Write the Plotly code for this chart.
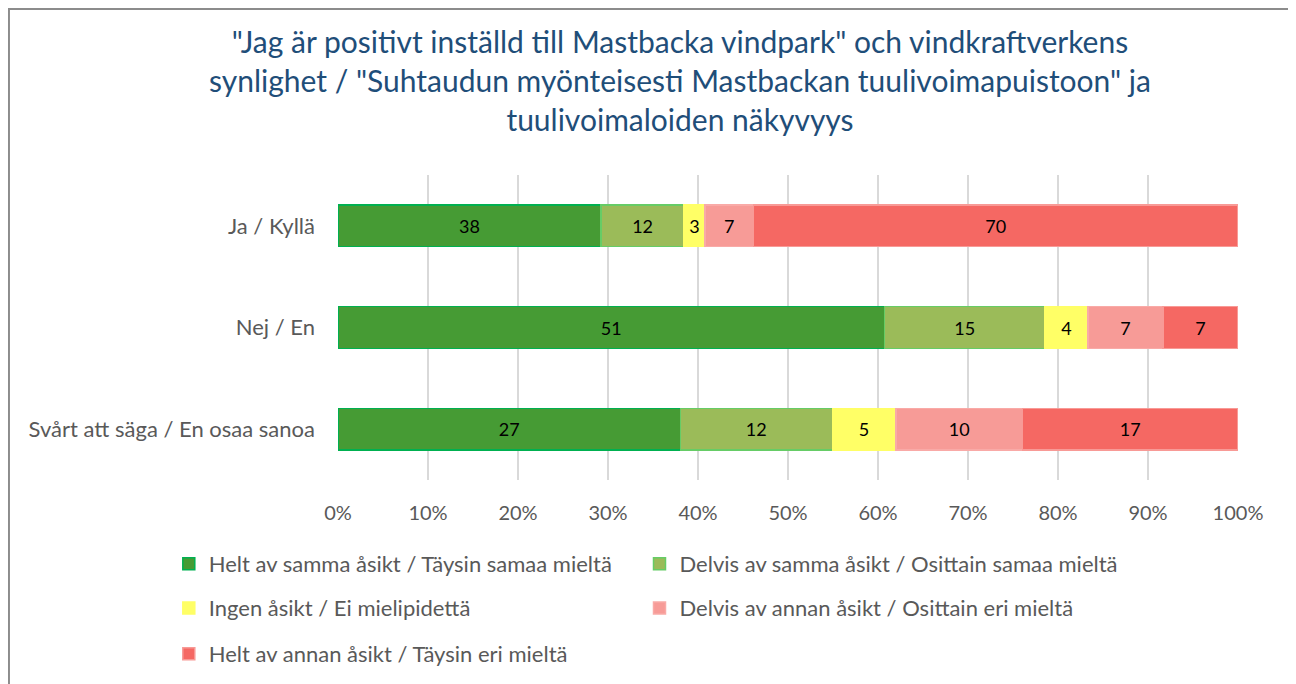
import plotly.graph_objects as go

categories = ["Ja / Kyllä", "Nej / En", "Svårt att säga / En osaa sanoa"]
series_names = [
    "Helt av samma åsikt / Täysin samaa mieltä",
    "Delvis av samma åsikt / Osittain samaa mieltä",
    "Ingen åsikt / Ei mielipidettä",
    "Delvis av annan åsikt / Osittain eri mieltä",
    "Helt av annan åsikt / Täysin eri mieltä",
]
helt_samma = [38, 51, 27]
delvis_samma = [12, 15, 12]
ingen = [3, 4, 5]
delvis_annan = [7, 7, 10]
helt_annan = [70, 7, 17]
series_values = [helt_samma, delvis_samma, ingen, delvis_annan, helt_annan]
tick_vals = [0, 10, 20, 30, 40, 50, 60, 70, 80, 90, 100]
tick_text = [f"{v}%" for v in tick_vals]

fills = ["#469B34", "#9BBB59", "#FFFF66", "#F79B97", "#F56863"]
outlines = ["#00B050", "#66CC66", "#FFFF66", "#F9AAA7", "#F89A96"]
legend_ids = ["legend", "legend2", "legend3", "legend4", "legend5"]
# legend placement (paper coords): two columns, three rows
legend_x = [-0.188, 0.335, -0.188, 0.335, -0.188]
legend_y = [-0.275, -0.275, -0.42, -0.42, -0.57]

FONT = "Lato"

fig = go.Figure()
for name, vals, fc, lc, lg in zip(series_names, series_values, fills, outlines, legend_ids):
    fig.add_trace(go.Bar(
        y=categories, x=vals, name=name, orientation="h",
        marker=dict(color=fc, line=dict(color=lc, width=1.5)),
        text=vals, texttemplate="%{text}", textposition="inside",
        insidetextanchor="middle", constraintext="none",
        textfont=dict(family=FONT, size=18, color="#000000"),
        legend=lg, hoverinfo="skip",
    ))

leg_common = dict(orientation="v", xanchor="left", yanchor="middle",
                  font=dict(family=FONT, size=22, color="#595959"),
                  bgcolor="rgba(0,0,0,0)")
legends = {
    lg: dict(x=lx, y=ly, **leg_common)
    for lg, lx, ly in zip(legend_ids, legend_x, legend_y)
}

fig.update_layout(
    width=1296, height=684,
    barmode="stack", barnorm="percent", bargap=0.59,
    paper_bgcolor="white", plot_bgcolor="white",
    margin=dict(l=330, r=66, t=167, b=212),
    title=dict(
        text='"Jag är positivt inställd till Mastbacka vindpark" och vindkraftverkens<br>'
             'synlighet / "Suhtaudun myönteisesti Mastbackan tuulivoimapuistoon" ja<br>'
             'tuulivoimaloiden näkyvyys',
        x=0.5185, xanchor="center", y=0.934, yanchor="middle",
        font=dict(family=FONT, size=30, color="#1F4E79"),
    ),
    xaxis=dict(range=[0, 100], tickvals=tick_vals, ticktext=tick_text,
               showgrid=True, gridcolor="#D9D9D9", gridwidth=2,
               zeroline=False, showline=False,
               tickfont=dict(family=FONT, size=20, color="#595959"),
               ticklabelstandoff=19, fixedrange=True),
    yaxis=dict(autorange="reversed", showgrid=False, zeroline=False,
               tickfont=dict(family=FONT, size=22, color="#595959"),
               ticklabelstandoff=22, fixedrange=True),
    showlegend=True,
    shapes=[dict(type="rect", xref="paper", yref="paper",
                 x0=-0.3656, x1=1.06, y0=-0.7, y1=1.544,
                 line=dict(color="#8C8C8C", width=2), fillcolor="rgba(0,0,0,0)",
                 layer="below")],
    **legends,
)

fig.write_html("out.html")
